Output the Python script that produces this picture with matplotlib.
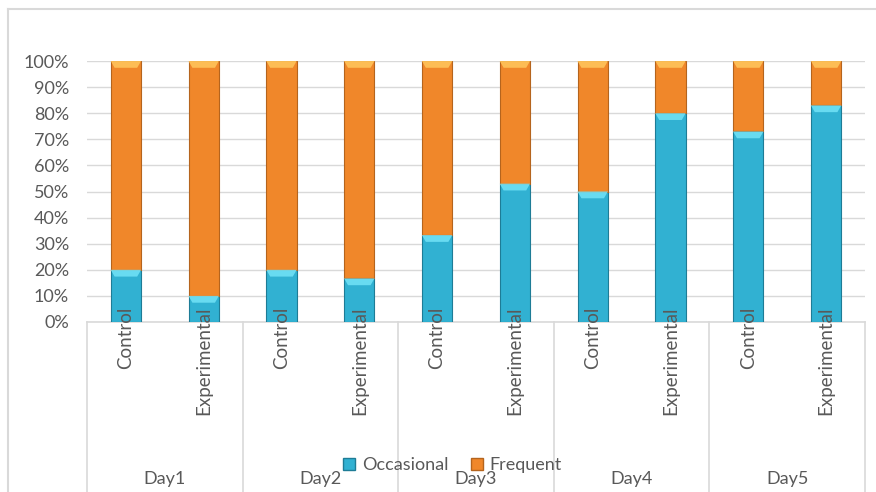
import matplotlib.pyplot as plt
from matplotlib.patches import Polygon
from matplotlib.lines import Line2D
import numpy as np

plt.rcParams['font.family'] = ['Lato', 'DejaVu Sans']

days = ['Day1', 'Day2', 'Day3', 'Day4', 'Day5']
groups = ['Control', 'Experimental']
occasional = [20, 10, 20, 16.7, 33.3, 53, 50, 80, 73, 83]
frequent = [100 - v for v in occasional]
yticks = [0, 10, 20, 30, 40, 50, 60, 70, 80, 90, 100]

blue = '#31b1d2'
blue_edge = '#1e7c96'
blue_top = '#6fe0f5'
orange = '#f0872a'
orange_edge = '#b5641d'
orange_top = '#ffc45a'
grid_c = '#d9d9d9'
text_c = '#595959'

fig = plt.figure(figsize=(8.76, 4.92), dpi=100)
W, H = 876, 492
ax = fig.add_axes([87 / W, 1 - 322 / H, (865 - 87) / W, (322 - 61) / H])

x = np.arange(len(occasional))
occ = np.array(occasional) / 100
freq = np.array(frequent) / 100
bw = 0.39

b1 = ax.bar(x, occ, bw, color=blue, edgecolor=blue_edge, linewidth=0.8, zorder=3)
b2 = ax.bar(x, freq, bw, bottom=occ, color=orange, edgecolor=orange_edge,
            linewidth=0.8, zorder=3)

# light bevel on top of each segment
for bars, col in ((b1, blue_top), (b2, orange_top)):
    for r in bars:
        x0, y0 = r.get_x(), r.get_y()
        w, h = r.get_width(), r.get_height()
        top = y0 + h
        dx, dy = 0.05, 0.026
        poly = Polygon([(x0, top), (x0 + w, top), (x0 + w - dx, top - dy),
                        (x0 + dx, top - dy)], closed=True, color=col,
                       lw=0, zorder=4, alpha=0.9)
        ax.add_patch(poly)

ax.set_xlim(-0.5, len(occasional) - 0.5)
ax.set_ylim(0, 1)
ax.set_yticks([t / 100 for t in yticks])
ax.set_yticklabels([f'{t}%' for t in yticks], fontsize=13, color=text_c)
ax.tick_params(axis='y', length=0, pad=13)
ax.set_xticks([])
for s in ax.spines.values():
    s.set_visible(False)
ax.grid(axis='y', color=grid_c, linewidth=1, zorder=0)
ax.set_axisbelow(True)

xt = ax.get_xaxis_transform()
bottom = -(H - 322) / (322 - 61)

# axis line and group separators
ax.plot([-0.5, len(occasional) - 0.5], [0, 0], color=grid_c, lw=1.2,
        transform=xt, clip_on=False, zorder=2)
for k in range(len(days) + 1):
    xs = 2 * k - 0.5
    ax.plot([xs, xs], [0, bottom], color=grid_c, lw=1.2, transform=xt,
            clip_on=False, zorder=2)

# rotated category labels
for i in x:
    ax.text(i, 0.06, groups[i % 2], rotation=90, ha='center', va='top',
            fontsize=13.5, color=text_c, transform=xt, zorder=5)

# day labels
day_y = -(479 - 322) / (322 - 61)
for k, d in enumerate(days):
    ax.text(2 * k + 0.5, day_y, d, ha='center', va='center', fontsize=13,
            color=text_c, transform=xt)

# legend
handles = [Line2D([], [], marker='s', ls='', markersize=8, markerfacecolor=blue,
                  markeredgecolor=blue_edge),
           Line2D([], [], marker='s', ls='', markersize=8, markerfacecolor=orange,
                  markeredgecolor=orange_edge)]
fig.legend(handles, ['Occasional', 'Frequent'], loc='center',
           bbox_to_anchor=(452 / W, 1 - 465 / H), ncol=2, frameon=False,
           fontsize=13, labelcolor=text_c, handletextpad=0.3, columnspacing=1.2,
           handlelength=0.8)

# outer chart border
fig.add_artist(Line2D([8 / W, 8 / W], [0, 1 - 9 / H], color=grid_c, lw=1.5))
fig.add_artist(Line2D([8 / W, 1], [1 - 9 / H, 1 - 9 / H], color=grid_c, lw=1.5))

fig.savefig('out.png', dpi=100, facecolor='white')
